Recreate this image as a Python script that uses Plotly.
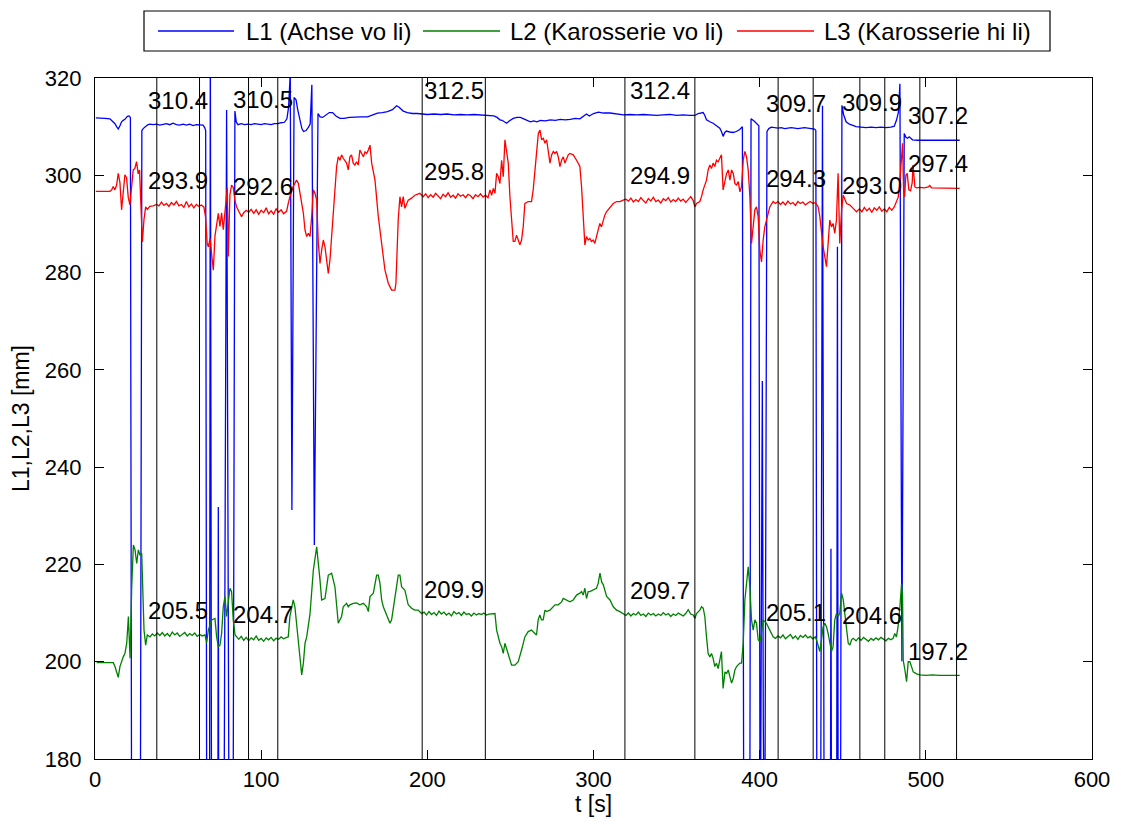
import plotly.graph_objects as go

# ---------------- data ----------------
DROP = 150.0  # sensor drop-outs of L1, far below the visible range

L1_PTS = [(0.5,311.8),(3,311.8),(6,311.7),(9,311.6),(11,311.0),(12,310.6),(13,310.0),(14,309.5),(15,310.2),(16,311.0),(17,311.3),(18,311.5),(19.5,312.1),(20.5,312.2),(21.3,311.9),(22.1,DROP),(27.2,DROP),(28.2,309.2),(29,309.6),(30,310.0),(31,310.2),(32,310.4),(33,310.5),(35,310.4),(37,310.5),(39,310.3),(41,310.4),(43,310.6),(45,310.4),(47,310.7),(49,310.4),(51,310.3),(53,310.5),(55,310.3),(57,310.5),(59,310.2),(61,310.4),(63,310.4),(65,310.3),(66,309.8),(66.6,309.2),(67.3,DROP),(68.9,DROP),(69.4,330.0),(70.2,DROP),(73.9,DROP),(74.2,231.8),(74.5,DROP),(77.5,DROP),(79.2,313.4),(80.8,DROP),(83.0,DROP),(84.2,313.2),(85.0,311.0),(86,310.4),(88,310.6),(90,310.4),(92,310.5),(94,310.4),(96,310.6),(98,310.5),(100,310.4),(102,310.6),(104,310.5),(106,310.4),(108,310.6),(110,310.6),(112,310.8),(114,310.9),(115.5,311.6),(116.5,314.0),(117.5,321.0),(118.5,231.2),(119.8,316.0),(121,315.5),(122,313.5),(123.3,311.4),(124.5,309.6),(125.5,309.0),(127,309.2),(128.5,309.9),(129.5,310.6),(130.5,318.6),(132,224.0),(134.2,312.7),(135.5,312.0),(137,311.9),(139,312.4),(141,312.9),(143,312.9),(145,312.2),(147.4,311.7),(150,311.7),(153,311.9),(156,312.0),(160,312.0),(164,312.0),(167,312.4),(170,312.8),(173,312.9),(176,313.1),(179,313.5),(181.5,314.3),(183,314.0),(185.5,313.2),(188,312.9),(191,312.7),(194,312.7),(197,312.6),(200,312.5),(204,312.6),(208,312.5),(212,312.6),(216,312.4),(220,312.5),(224,312.4),(228,312.5),(232,312.4),(236,312.3),(240,312.2),(242,311.9),(243.7,311.4),(245,311.3),(247.7,310.7),(249.5,311.2),(251.7,311.7),(254,311.9),(256,311.9),(258,311.6),(260,311.3),(262,311.0),(264,311.2),(266,311.0),(268,311.3),(271,311.2),(274,311.4),(277,311.3),(280,311.5),(283,311.4),(286,311.5),(289,311.7),(291.8,311.6),(294,312.2),(295.8,312.6),(297.5,312.2),(300,312.7),(303,313.0),(306,312.8),(310,312.8),(314,312.6),(318,312.4),(322,312.5),(326,312.4),(330,312.5),(334,312.4),(338,312.3),(342,312.4),(346,312.5),(350,312.3),(354,312.4),(358,312.3),(361,312.3),(363,312.7),(366,312.9),(367,312.3),(368,311.4),(370,311.0),(372,310.7),(374,310.2),(376,309.7),(377,309.0),(378,308.0),(379,308.8),(380,309.1),(382,308.9),(384,308.8),(386,309.0),(388,309.4),(389.6,310.0),(390.5,DROP),(394.0,DROP),(394.8,311.6),(396.5,311.2),(398.5,310.5),(399.5,310.2),(400.3,DROP),(401.6,257.7),(402.2,186.8),(403.0,DROP),(404.4,309.0),(405.5,309.6),(407,309.9),(409,309.8),(411,309.7),(413,309.8),(415,309.6),(417,309.7),(419,309.8),(421,309.7),(423,309.6),(425,309.7),(427,309.8),(429,309.7),(431,309.6),(433,309.5),(433.8,309.2),(434.5,DROP),(436.6,DROP),(437.8,314.3),(438.9,DROP),(442.5,DROP),(442.9,223.2),(443.3,DROP),(446.3,DROP),(446.8,285.3),(447.3,DROP),(448.6,DROP),(449.5,314.4),(450.5,312.5),(452,311.0),(454,310.5),(456,310.2),(458,310.0),(461,309.9),(464,309.8),(467,309.9),(470,309.8),(473,309.9),(476,309.8),(479,309.9),(481,310.1),(482.4,311.4),(483.5,313.0),(484.4,318.8),(485.6,200.1),(487,308.6),(488,307.8),(489,307.6),(490,307.9),(492,307.3),(495,307.2),(500,307.2),(505,307.2),(510,307.1),(515,307.2),(520.4,307.2)]

L2_PTS = [(1,199.8),(4,199.8),(8,199.7),(11,199.8),(12,199.0),(13,198.0),(14,196.8),(15,199.0),(16,200.2),(17,201.0),(18,201.7),(19.1,203.8),(20.1,209.3),(20.7,205.1),(21.1,200.7),(22.1,215.4),(23.1,224.0),(24.1,223.0),(25.1,220.2),(26.1,223.0),(27.1,221.9),(28.1,222.3),(28.7,215.4),(29.5,206.5),(30.5,203.4),(31.5,205.5),(33.1,205.1),(34.5,205.7),(36,205.3),(37.5,205.9),(39,205.4),(40.5,206.0),(42,205.3),(43.5,205.8),(45,205.2),(46.5,206.1),(48,205.5),(49.5,205.9),(51,205.2),(52.5,205.7),(54,206.0),(55.5,205.3),(57,205.8),(58.5,205.4),(60,205.9),(61.5,205.2),(63,205.6),(64.5,205.3),(66.2,205.5),(67.2,203.9),(68.2,206.5),(70.2,208.6),(72.2,208.9),(73.2,205.1),(74.2,203.1),(75.2,203.4),(76.2,205.8),(77.2,211.3),(78.2,213.4),(79.2,209.3),(80.2,212.7),(81.2,215.1),(82.2,214.4),(83.2,208.6),(84.3,205.5),(85.2,205.1),(86.5,204.6),(88,205.2),(89.5,204.4),(91,205.0),(92.5,204.3),(94,204.9),(95.5,204.5),(97,205.3),(98.5,204.4),(100,204.8),(101.5,204.2),(103,204.9),(104.5,204.5),(106,205.0),(107.5,204.3),(109,204.8),(110.5,204.6),(112,205.1),(113.5,204.7),(115.3,205.0),(116.3,205.1),(117.3,209.3),(119.3,212.7),(120.3,211.3),(121.3,207.9),(122.4,203.1),(123.4,200.3),(124.4,197.3),(125.4,199.7),(126.4,203.8),(127.4,205.1),(129.4,209.9),(131.4,218.8),(133.4,223.6),(135.4,216.8),(136.4,212.7),(138.4,213.0),(140.4,217.8),(142.4,218.2),(144.4,215.4),(146.4,207.9),(148.4,209.3),(149.4,211.3),(150.4,211.7),(151.4,212.0),(152.4,211.3),(153.4,211.7),(155.4,212.0),(157.4,212.1),(159.4,211.7),(161.5,212.0),(163.5,211.3),(164.5,210.3),(165.5,213.4),(167.5,214.1),(169.5,217.8),(170.5,217.8),(171.5,216.1),(172.5,212.7),(173.5,211.3),(175.5,209.6),(177.5,207.9),(178.5,208.6),(180.5,213.4),(182.5,217.8),(183.5,217.8),(184.5,215.4),(186.5,214.7),(188.5,211.7),(190.5,211.0),(192.5,210.6),(194.5,210.6),(196.6,209.9),(198,210.2),(199.5,209.6),(201,210.3),(202.5,209.7),(204,210.1),(205.5,209.5),(207,210.4),(208.5,209.8),(210,210.2),(211.5,209.6),(213,210.0),(214.5,209.4),(216,210.3),(217.5,209.8),(219,210.1),(220.5,209.5),(222,210.2),(223.5,209.7),(225,209.9),(226.5,209.4),(228,210.0),(229.5,209.6),(231,209.9),(232.5,209.7),(234,210.0),(235.5,209.6),(237,209.8),(238.5,209.9),(240.7,209.9),(241.7,206.5),(243.7,203.8),(244.7,203.1),(245.7,201.7),(246.7,203.8),(247.7,202.7),(249.7,200.3),(250.7,199.3),(252.7,199.3),(254.7,200.0),(256.7,202.4),(258.7,205.1),(260.7,206.2),(262.7,206.5),(264.7,205.8),(265.7,205.5),(266.7,208.6),(267.7,209.6),(268.7,208.6),(269.7,208.6),(270.8,210.6),(271.8,210.3),(273.8,210.6),(275.8,211.3),(276.8,211.7),(278.8,211.7),(280.8,212.3),(281.8,213.0),(283.8,212.7),(285.8,212.3),(287.8,212.7),(289.8,213.7),(291.8,214.1),(292.8,214.4),(293.8,213.7),(294.8,215.1),(295.8,213.0),(296.8,214.4),(297.8,214.4),(299.8,214.7),(301.8,215.1),(302.8,216.1),(303.9,218.2),(304.9,216.4),(305.9,215.8),(307.9,213.4),(309.9,212.7),(311.9,211.3),(313.9,210.6),(315.9,210.3),(317.9,209.9),(319.5,209.5),(321,210.0),(322.5,209.4),(324,209.9),(325.5,209.6),(327,210.2),(328.5,209.5),(330,209.8),(331.5,209.3),(333,210.0),(334.5,209.6),(336,209.9),(337.5,209.4),(339,209.8),(340.5,209.5),(342,210.1),(343.5,209.6),(345,209.9),(346.5,209.3),(348,209.8),(349.5,209.5),(351,210.0),(352.5,209.7),(354,209.4),(355.5,209.9),(357,210.7),(358.5,209.8),(360,209.6),(361.0,208.9),(362.0,209.9),(364.0,210.6),(365.0,211.3),(366.0,211.0),(367.0,209.3),(368.0,205.1),(369.0,201.7),(370.0,201.0),(371.0,201.7),(372.0,200.7),(373.0,199.0),(374.0,199.7),(375.0,198.6),(376.0,200.3),(377.0,202.1),(378.0,194.5),(379.1,197.9),(380.1,197.6),(381.1,198.3),(382.1,196.9),(383.1,195.6),(384.1,196.6),(385.1,198.3),(386.1,199.0),(387.1,199.3),(388.1,199.7),(389.1,199.7),(390.1,203.8),(391.1,212.7),(392.5,218.2),(393.1,219.5),(394.1,215.4),(395.1,208.6),(396.1,206.5),(397.1,208.6),(398.1,207.9),(399.1,204.5),(400.1,204.1),(401.1,205.8),(402.1,208.6),(403.1,208.2),(404.1,207.9),(406.1,206.5),(408.1,205.1),(409.5,204.8),(411,205.3),(412.5,204.9),(414,205.5),(415.5,204.7),(417,205.2),(418.5,205.6),(420,204.8),(421.5,205.3),(423,204.6),(424.5,205.4),(426,205.0),(427.5,205.5),(429,204.9),(430.5,205.2),(432,204.7),(433.5,205.1),(434.2,204.5),(436.2,202.1),(437.2,204.5),(438.2,207.2),(439.2,207.9),(440.2,207.2),(441.2,205.8),(442.2,203.8),(443.2,202.1),(444.2,203.1),(445.2,208.6),(446.2,209.9),(447.2,209.3),(448.2,209.9),(449.3,214.1),(450.3,212.7),(451.3,209.9),(452.3,206.5),(453.3,203.8),(454.3,203.4),(455.3,204.5),(456.3,204.8),(458,204.3),(459.5,204.9),(461,204.4),(462.5,205.0),(464,204.5),(465.5,204.2),(467,204.8),(468.5,204.4),(470,204.9),(471.5,204.5),(473,205.0),(474.5,204.6),(476,204.3),(477.5,204.8),(479,204.5),(480.3,204.8),(481.3,205.8),(482.3,205.1),(483.3,207.2),(484.4,211.3),(485.4,216.0),(486.0,213.4),(486.4,200.3),(487.4,198.3),(488.4,195.9),(489.4,200.0),(490.4,200.0),(491.4,199.0),(492.4,197.9),(494.4,197.5),(496.4,197.3),(500,197.2),(504,197.3),(508,197.2),(512,197.2),(516,197.1),(520.4,197.2)]

L3_PTS = [(0.5,296.7),(3,296.7),(6,296.6),(9,296.7),(10,297.0),(11,297.7),(12,297.0),(13,298.0),(14,300.4),(15,298.5),(16,292.9),(17,297.0),(18,300.1),(19,299.5),(20,295.5),(21,293.9),(22,297.2),(23,301.1),(24,301.4),(25,302.8),(26,300.3),(26.8,301.1),(27.5,295.0),(28.5,286.3),(29.5,291.0),(30.5,293.5),(31.5,293.0),(33,293.6),(35,293.7),(37,294.0),(38.5,293.7),(40,294.5),(41.5,293.8),(43,294.2),(44.5,293.6),(46,294.4),(47.5,293.9),(49,294.6),(50.5,293.7),(52,294.0),(53.5,293.4),(55,294.6),(56.5,293.5),(58,294.1),(59.5,293.3),(61,294.0),(62.5,293.6),(64,293.9),(65.5,293.5),(66.5,291.5),(67.5,286.0),(68.2,285.3),(69.2,287.0),(70.2,284.3),(71.2,280.5),(72.2,287.5),(73.2,290.0),(74.2,292.2),(75.2,289.5),(76.2,292.3),(77.2,288.8),(78.2,292.3),(79.2,297.0),(79.6,297.5),(80.2,283.3),(81.2,296.0),(82.2,298.0),(83.2,297.5),(84.2,294.9),(85.2,293.5),(86.5,292.6),(88.2,291.5),(89.5,292.3),(91,292.8),(92.5,292.4),(94,293.0),(95.5,292.2),(97,292.9),(98.5,292.0),(100,292.8),(101.5,292.3),(103,293.3),(104.5,292.1),(106,292.7),(107.5,292.0),(109,293.1),(110.5,292.4),(112,292.9),(113.5,292.1),(115.3,292.6),(116.3,294.2),(117.3,295.6),(119.3,297.7),(121.3,299.0),(122.4,298.3),(123.4,296.3),(125.4,292.2),(126.4,288.7),(127.4,287.4),(128.4,288.1),(129.4,287.4),(130.4,291.5),(131.4,297.0),(132.4,296.3),(133.4,294.9),(134.4,286.0),(135.4,281.9),(136.4,284.6),(137.4,286.7),(138.4,285.3),(139.4,281.9),(140.4,279.8),(141.4,282.6),(142.4,287.4),(143.4,290.8),(144.4,297.0),(145.4,301.8),(146.4,303.8),(147.4,303.1),(148.4,304.2),(149.4,303.5),(151.4,302.5),(152.4,301.1),(153.4,303.8),(154.4,304.2),(155.4,302.5),(156.4,302.1),(157.4,302.8),(158.4,302.1),(159.4,305.2),(160.4,304.5),(161.5,303.8),(162.5,304.8),(163.5,304.5),(164.5,305.2),(165.5,306.2),(166.5,302.5),(168.5,299.0),(170.5,291.5),(172.5,285.3),(174.5,280.5),(176.5,277.8),(178.5,276.4),(180.5,276.4),(181.1,277.8),(182.5,291.0),(183.5,295.6),(184.5,293.5),(185.5,295.6),(186.5,293.2),(187.5,294.2),(188.5,294.9),(190.5,295.3),(192.5,295.9),(195.5,296.3),(197.5,295.6),(199,296.2),(200.5,295.4),(202,296.0),(203.5,295.5),(205,296.3),(206.5,295.7),(208,295.2),(209.5,296.1),(211,295.6),(212.5,296.4),(214,295.5),(215.5,295.9),(217,295.3),(218.5,296.2),(220,295.7),(221.5,296.0),(223,295.4),(224.5,296.1),(226,295.8),(227.5,295.2),(229,296.0),(230.5,295.6),(232,296.2),(233.5,295.5),(235,295.9),(236.5,295.4),(237.7,297.0),(238.7,295.9),(239.7,297.3),(240.7,296.3),(241.7,300.4),(242.7,299.7),(243.7,298.3),(244.7,303.1),(245.7,299.7),(246.7,307.3),(247.7,305.2),(248.7,302.5),(249.7,295.6),(250.7,290.8),(251.7,286.4),(252.7,286.4),(253.7,287.7),(254.7,286.7),(255.7,285.7),(256.7,286.7),(257.7,289.4),(258.7,294.2),(260.7,294.6),(262.7,294.6),(263.7,297.0),(264.8,301.1),(265.8,305.9),(266.8,308.6),(267.8,309.3),(268.8,307.3),(269.8,307.6),(270.8,306.6),(271.8,307.3),(272.8,304.9),(273.8,302.5),(274.8,304.2),(275.8,304.9),(276.8,304.5),(277.8,304.9),(278.8,303.8),(279.8,301.8),(280.8,303.1),(281.8,303.8),(282.8,302.5),(283.8,303.5),(284.8,304.2),(285.8,304.5),(287.8,304.2),(289.8,303.1),(291.8,301.8),(292.8,297.7),(293.8,292.2),(294.8,285.7),(295.8,287.4),(296.8,286.7),(297.8,287.0),(298.8,286.4),(299.8,286.7),(300.8,286.0),(301.8,287.4),(302.8,288.7),(303.8,290.1),(304.8,289.4),(305.8,290.8),(306.8,291.8),(307.8,292.5),(309.9,293.5),(311.9,294.2),(313.9,294.6),(315.9,294.6),(317.9,294.9),(319.5,295.1),(321,294.7),(322.5,295.3),(324,294.5),(325.5,295.0),(327,294.6),(328.5,295.4),(330,294.8),(331.5,294.3),(333,295.2),(334.5,294.7),(336,295.5),(337.5,294.6),(339,294.9),(340.5,294.3),(342,295.2),(343.5,294.8),(345,295.4),(346.5,294.5),(348,295.0),(349.5,294.6),(351,295.3),(352.5,294.7),(354,295.1),(355.5,294.4),(357,295.0),(358.5,295.6),(360,294.8),(361.0,293.5),(362.0,294.2),(364.0,294.6),(365.0,295.6),(366.0,297.0),(368.0,299.0),(369.0,301.1),(370.0,302.1),(371.0,301.4),(372.0,302.5),(373.0,301.8),(374.0,303.1),(375.0,302.8),(376.0,303.5),(377.0,304.2),(378.0,297.0),(380.1,300.4),(381.1,301.1),(382.1,299.0),(383.1,301.1),(384.1,300.4),(385.1,298.3),(386.1,298.0),(387.1,298.7),(388.1,296.6),(389.1,297.7),(390.1,303.1),(391.1,304.9),(392.1,303.8),(393.1,301.1),(394.1,295.6),(395.1,286.0),(396.1,289.4),(397.1,292.9),(398.1,293.5),(399.1,291.5),(400.1,284.6),(401.1,282.2),(402.1,286.7),(403.1,289.4),(404.1,290.8),(405.1,292.2),(406.1,293.5),(408.1,294.6),(409.5,294.2),(411,294.6),(412.5,294.0),(414,294.5),(415.5,293.9),(417,294.7),(418.5,294.1),(420,294.4),(421.5,293.8),(423,294.6),(424.5,294.2),(426,294.5),(427.5,293.9),(429,294.3),(430.5,294.6),(432,294.2),(433.5,294.4),(434.5,293.9),(435.2,293.5),(436.2,291.5),(437.2,288.1),(438.2,285.3),(439.2,283.3),(440.2,281.2),(441.2,286.0),(442.2,290.8),(443.2,289.4),(444.2,290.1),(445.2,288.1),(446.2,290.8),(447.2,300.4),(448.2,286.0),(449.3,292.9),(450.3,295.9),(452.3,294.2),(454.3,293.9),(456.3,293.2),(458.3,292.5),(460,293.1),(461.5,292.5),(463,293.4),(464.5,292.7),(466,293.2),(467.5,292.4),(469,293.3),(470.5,292.8),(472,293.5),(473.5,292.6),(475,293.1),(476.5,292.5),(478,293.4),(479.5,292.8),(481,293.5),(482.4,294.6),(483.4,295.5),(484.4,299.0),(485.4,303.8),(486.0,306.6),(486.6,297.0),(487.2,295.6),(488.0,300.0),(488.8,300.4),(489.8,297.0),(490.8,296.8),(491.8,298.5),(492.3,302.1),(493.4,297.6),(494.5,297.4),(496.4,297.5),(499,297.4),(501.5,297.6),(502.4,297.9),(503.5,297.4),(507,297.4),(511,297.3),(515,297.4),(520.4,297.3)]

SEG_BOUNDS = [37.2, 62.9, 92.4, 110.0, 196.9, 234.9, 318.9, 361.0, 411.1, 432.2, 460.3, 475.3, 496.4, 518.5]
MEAN_L1 = [310.4, 310.5, 312.5, 312.4, 309.7, 309.9, 307.2]
MEAN_L2 = [205.5, 204.7, 209.9, 209.7, 205.1, 204.6, 197.2]
MEAN_L3 = [293.9, 292.6, 295.8, 294.9, 294.3, 293.0, 297.4]

NAMES = ["L1 (Achse vo li)", "L2 (Karosserie vo li)", "L3 (Karosserie hi li)"]
COLORS = ["#0000FF", "#008000", "#FF0000"]
X_TICKS = [0, 100, 200, 300, 400, 500, 600]
Y_TICKS = [180, 200, 220, 240, 260, 280, 300, 320]
X_TITLE = "t [s]"
Y_TITLE = "L1,L2,L3 [mm]"

# ---------------- layout constants (screen pixels) ----------------
VIEW_W, VIEW_H = 1121, 825
BODY = 8                      # default page margin around the plot div
W, H = VIEW_W - BODY, VIEW_H - BODY
PLOT_L, PLOT_R, PLOT_T, PLOT_B = 95, 1092, 78, 759
ML, MT = PLOT_L - BODY, PLOT_T - BODY
MR, MB = VIEW_W - PLOT_R, VIEW_H - PLOT_B
PW, PH = PLOT_R - PLOT_L, PLOT_B - PLOT_T
FONT = "Liberation Sans, Arial, Helvetica, sans-serif"
LABEL_OFFSET = 5.0  # mean labels are drawn this far above the value


def px_x(px):
    return (px - PLOT_L) / PW


def px_y(py):
    return 1 + (PLOT_T - py) / PH


fig = go.Figure()
for pts, name, col in zip([L1_PTS, L2_PTS, L3_PTS], NAMES, COLORS):
    t, v = zip(*pts)
    fig.add_trace(go.Scatter(x=list(t), y=list(v), mode="lines", name=name,
                             line=dict(color=col, width=1.3), showlegend=False))

# segment boundaries
for b in SEG_BOUNDS:
    fig.add_shape(type="line", x0=b, x1=b, y0=0, y1=1, xref="x", yref="paper",
                  line=dict(color="black", width=1))

# segment means
for i in range(len(MEAN_L1)):
    mid = (SEG_BOUNDS[2 * i] + SEG_BOUNDS[2 * i + 1]) / 2
    for means in (MEAN_L1, MEAN_L2, MEAN_L3):
        fig.add_annotation(x=mid, y=means[i] + LABEL_OFFSET, text=f"{means[i]:.1f}",
                           showarrow=False, xanchor="center", yanchor="middle",
                           font=dict(family=FONT, size=24, color="black"))

# legend box (MATLAB style)
fig.add_shape(type="rect", xref="paper", yref="paper",
              x0=px_x(144), x1=px_x(1050), y0=px_y(51), y1=px_y(11),
              line=dict(color="black", width=1.2), fillcolor="white", layer="above")
leg_line_px = [(158, 234, 244), (423, 500, 508), (737, 814, 822)]
for (a, b, tx), name, col in zip(leg_line_px, NAMES, COLORS):
    fig.add_shape(type="line", xref="paper", yref="paper",
                  x0=px_x(a), x1=px_x(b), y0=px_y(31), y1=px_y(31),
                  line=dict(color=col, width=1.3))
    fig.add_annotation(xref="paper", yref="paper", x=px_x(tx), y=px_y(31.5),
                       text=name, showarrow=False, xanchor="left", yanchor="middle",
                       font=dict(family=FONT, size=24, color="black"))

axis_common = dict(showgrid=False, zeroline=False, showline=True, linecolor="black",
                   linewidth=1.2, mirror="ticks", ticks="inside", ticklen=9,
                   tickcolor="black", tickwidth=1,
                   tickfont=dict(family=FONT, size=22, color="black"))

fig.update_layout(
    width=W, height=H,
    margin=dict(l=ML, r=MR, t=MT, b=MB, autoexpand=False),
    paper_bgcolor="white", plot_bgcolor="white",
    font=dict(family=FONT, color="black"),
    xaxis=dict(range=[0, 600], tickvals=X_TICKS, ticklabelstandoff=0,
               title=dict(text=X_TITLE, standoff=3, font=dict(family=FONT, size=23)),
               automargin=False, **axis_common),
    yaxis=dict(range=[180, 320], tickvals=Y_TICKS, ticklabelstandoff=8,
               title=dict(text=Y_TITLE, standoff=8, font=dict(family=FONT, size=23)),
               automargin=False, **axis_common),
)

fig.write_html("out.html")
